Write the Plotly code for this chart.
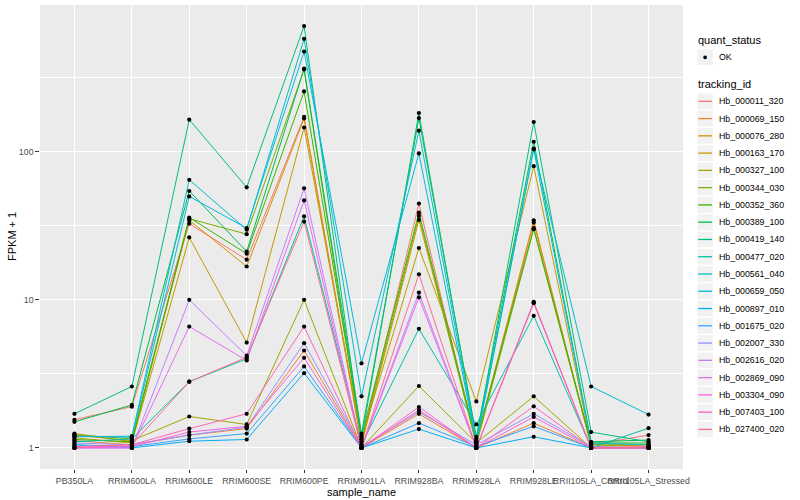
import numpy as np
import plotly.graph_objects as go

samples = ["PB350LA", "RRIM600LA", "RRIM600LE", "RRIM600SE", "RRIM600PE", "RRIM901LA",
           "RRIM928BA", "RRIM928LA", "RRIM928LE", "RRII105LA_Control", "RRII105LA_Stressed"]

tracking_ids = ["Hb_000011_320", "Hb_000069_150", "Hb_000076_280", "Hb_000163_170", "Hb_000327_100",
                "Hb_000344_030", "Hb_000352_360", "Hb_000389_100", "Hb_000419_140", "Hb_000477_020",
                "Hb_000561_040", "Hb_000659_050", "Hb_000897_010", "Hb_001675_020", "Hb_002007_330",
                "Hb_002616_020", "Hb_002869_090", "Hb_003304_090", "Hb_007403_100", "Hb_027400_020"]

# ggplot2 default hue palette for 20 levels
colors = ["#F8766D", "#EA8331", "#D89000", "#C09B00", "#A3A500", "#7CAE00", "#39B600", "#00BB4E",
          "#00BF7D", "#00C1A3", "#00BFC4", "#00BAE0", "#00B0F6", "#35A2FF", "#9590FF", "#C77CFF",
          "#E76BF3", "#FA62DB", "#FF62BC", "#FF6C91"]

# FPKM + 1 per sample (order of `samples`)
Hb_000011_320 = [1.55, 1.90, 32.7, 18.7, 172, 1.10, 44.7, 1.05, 33.3, 1.05, 1.22]
Hb_000069_150 = [1.12, 1.05, 1.22, 1.35, 4.55, 1.00, 1.70, 1.00, 1.47, 1.00, 1.00]
Hb_000076_280 = [1.25, 1.10, 34.5, 16.8, 168, 1.05, 34.7, 1.10, 34.5, 1.02, 1.05]
Hb_000163_170 = [1.17, 1.08, 26.4, 5.15, 146, 1.15, 22.4, 2.06, 80.0, 1.05, 1.02]
Hb_000327_100 = [1.22, 1.12, 1.63, 1.44, 10.0, 1.00, 2.62, 1.08, 2.23, 1.00, 1.00]
Hb_000344_030 = [1.23, 1.15, 35.3, 27.8, 360, 1.10, 36.9, 1.05, 30.0, 1.05, 1.05]
Hb_000352_360 = [1.14, 1.10, 36.0, 20.5, 256, 1.20, 38.8, 1.12, 30.5, 1.08, 1.08]
Hb_000389_100 = [1.50, 1.95, 54.4, 21.2, 365, 1.25, 169, 1.19, 117, 1.10, 1.13]
Hb_000419_140 = [1.70, 2.60, 165, 57.6, 707, 1.15, 183, 1.15, 159, 1.28, 1.10]
Hb_000477_020 = [1.10, 1.15, 2.80, 4.00, 36.7, 1.05, 6.37, 1.44, 7.80, 1.00, 1.36]
Hb_000561_040 = [1.19, 1.20, 64.7, 29.8, 580, 2.23, 139, 1.10, 105, 2.60, 1.68]
Hb_000659_050 = [1.20, 1.18, 50.0, 30.5, 476, 3.73, 97.5, 1.08, 104, 1.08, 1.05]
Hb_000897_010 = [1.05, 1.00, 1.11, 1.14, 3.20, 1.00, 1.34, 1.00, 1.19, 1.00, 1.00]
Hb_001675_020 = [1.05, 1.02, 1.15, 1.25, 3.55, 1.00, 1.47, 1.02, 1.40, 1.00, 1.00]
Hb_002007_330 = [1.08, 1.05, 1.22, 1.38, 5.10, 1.02, 1.75, 1.05, 1.70, 1.02, 1.00]
Hb_002616_020 = [1.00, 1.00, 10.0, 4.20, 56.7, 1.00, 11.2, 1.00, 9.70, 1.00, 1.00]
Hb_002869_090 = [1.00, 1.00, 6.60, 3.90, 47.0, 1.00, 10.4, 1.00, 9.60, 1.00, 1.00]
Hb_003304_090 = [1.00, 1.02, 1.28, 1.40, 4.06, 1.00, 1.89, 1.00, 1.62, 1.00, 1.00]
Hb_007403_100 = [1.00, 1.05, 1.35, 1.70, 6.60, 1.00, 1.80, 1.00, 1.91, 1.00, 1.02]
Hb_027400_020 = [1.02, 1.05, 2.80, 4.10, 33.8, 1.00, 14.9, 1.00, 9.50, 1.00, 1.00]

series = [Hb_000011_320, Hb_000069_150, Hb_000076_280, Hb_000163_170, Hb_000327_100,
          Hb_000344_030, Hb_000352_360, Hb_000389_100, Hb_000419_140, Hb_000477_020,
          Hb_000561_040, Hb_000659_050, Hb_000897_010, Hb_001675_020, Hb_002007_330,
          Hb_002616_020, Hb_002869_090, Hb_003304_090, Hb_007403_100, Hb_027400_020]

y_ticks = [1, 10, 100]
y_ticktext = ["1", "10", "100"]

FONT = "Liberation Sans, Arial, Helvetica, sans-serif"

fig = go.Figure()
for name, col, vals in zip(tracking_ids, colors, series):
    fig.add_trace(go.Scatter(x=samples, y=vals, mode="lines", name=name,
                             line=dict(color=col, width=1), showlegend=False,
                             hoverinfo="skip"))
# points (quant_status = OK) drawn on top
all_x = [s for _ in series for s in samples]
all_y = [v for vals in series for v in vals]
fig.add_trace(go.Scatter(x=all_x, y=all_y, mode="markers", name="OK",
                         marker=dict(color="black", size=4.2), showlegend=False))

# ggplot-like expanded log range
logs = np.log10(all_y)
span = logs.max() - logs.min()
y_range = [logs.min() - 0.05 * span, logs.max() + 0.05 * span]

L, R, T, B = 40, 683, 5, 469
W, H = 800, 500

def px(xp):
    return (xp - L) / (R - L)

def py(yp):
    return (B - yp) / (B - T)

shapes = []
annotations = []

# axis titles
annotations.append(dict(text="sample_name", x=px((L + R) / 2), y=py(483.5), xref="paper", yref="paper",
                        showarrow=False, xanchor="center", yanchor="top",
                        font=dict(family=FONT, size=11, color="black")))
annotations.append(dict(text="FPKM + 1", x=px(12), y=py((T + B) / 2), xref="paper", yref="paper",
                        showarrow=False, xanchor="center", yanchor="middle", textangle=-90,
                        font=dict(family=FONT, size=11, color="black")))

# legend: quant_status
annotations.append(dict(text="quant_status", x=px(696), y=py(40), xref="paper", yref="paper",
                        showarrow=False, xanchor="left", yanchor="middle",
                        font=dict(family=FONT, size=11, color="black")))
kx0, kx1 = 697.3, 712.9
kh = 15.6
cy = 57.3
shapes.append(dict(type="rect", xref="paper", yref="paper", x0=px(kx0), x1=px(kx1),
                   y0=py(cy - kh / 2), y1=py(cy + kh / 2), fillcolor="#F2F2F2", line=dict(width=0)))
r = 1.9
shapes.append(dict(type="circle", xref="paper", yref="paper", x0=px(705.1 - r), x1=px(705.1 + r),
                   y0=py(cy - r), y1=py(cy + r), fillcolor="black", line=dict(width=0)))
annotations.append(dict(text="OK", x=px(716.5), y=py(cy), xref="paper", yref="paper",
                        showarrow=False, xanchor="left", yanchor="middle",
                        font=dict(family=FONT, size=8.8, color="black")))

# legend: tracking_id
annotations.append(dict(text="tracking_id", x=px(696), y=py(84.3), xref="paper", yref="paper",
                        showarrow=False, xanchor="left", yanchor="middle",
                        font=dict(family=FONT, size=11, color="black")))
for i, (name, col) in enumerate(zip(tracking_ids, colors)):
    cy = 101.3 + i * 17.27
    shapes.append(dict(type="rect", xref="paper", yref="paper", x0=px(kx0), x1=px(kx1),
                       y0=py(cy - kh / 2), y1=py(cy + kh / 2), fillcolor="#F2F2F2", line=dict(width=0)))
    shapes.append(dict(type="line", xref="paper", yref="paper", x0=px(698.2), x1=px(712.0),
                       y0=py(cy), y1=py(cy), line=dict(color=col, width=1.3)))
    annotations.append(dict(text=name, x=px(716.5), y=py(cy), xref="paper", yref="paper",
                            showarrow=False, xanchor="left", yanchor="middle",
                            font=dict(family=FONT, size=8.8, color="black")))

fig.update_layout(
    width=W, height=H,
    margin=dict(l=L, r=W - R, t=T, b=H - B, autoexpand=False),
    paper_bgcolor="white", plot_bgcolor="#EBEBEB",
    font=dict(family=FONT, size=9, color="#4D4D4D"),
    showlegend=False,
    shapes=shapes, annotations=annotations,
    xaxis=dict(type="category", categoryorder="array", categoryarray=samples,
               range=[-0.6, len(samples) - 0.4], tickangle=0,
               showgrid=True, gridcolor="white", gridwidth=1.07, zeroline=False,
               ticks="outside", ticklen=3.0, tickwidth=1, tickcolor="#333333",
               tickfont=dict(family=FONT, size=8.8, color="#4D4D4D"), showline=False,
               automargin=False),
    yaxis=dict(type="log", range=y_range, tickvals=y_ticks, ticktext=y_ticktext,
               showgrid=True, gridcolor="white", gridwidth=1.07, zeroline=False,
               ticks="outside", ticklen=3.7, tickwidth=1, tickcolor="#333333",
               tickfont=dict(family=FONT, size=8.8, color="#4D4D4D"), showline=False,
               minor=dict(tickvals=[10 ** 0.5, 10 ** 1.5, 10 ** 2.5], showgrid=True,
                          gridcolor="white", gridwidth=0.55, ticks=""),
               automargin=False),
)

fig.write_html("out.html", config={"displayModeBar": False},
               post_script="document.body.style.margin='0';document.body.style.overflow='hidden';")
